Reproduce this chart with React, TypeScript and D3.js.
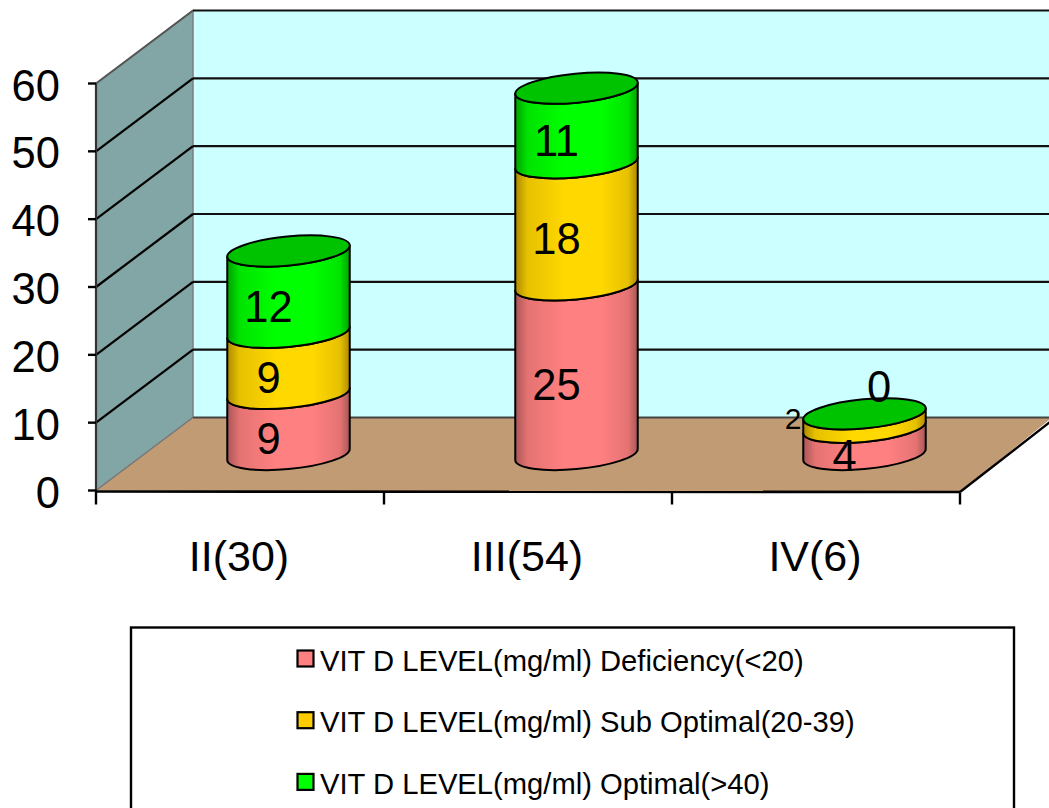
import React from "react";
import * as d3 from "d3";

const categories = ["II(30)", "III(54)", "IV(6)"];
const seriesNames = [
  "VIT D LEVEL(mg/ml) Deficiency(<20)",
  "VIT D LEVEL(mg/ml) Sub Optimal(20-39)",
  "VIT D LEVEL(mg/ml) Optimal(>40)",
];
const deficiency = [9, 25, 4];
const subOptimal = [9, 18, 2];
const optimal = [12, 11, 0];
const yTicks = [0, 10, 20, 30, 40, 50, 60];
const legendColors = ["#ff8080", "#ffcc00", "#00ff00"];
const gradEdge = ["#a85656", "#ad8a00", "#00a000"];
const gradMid = ["#ff8080", "#ffd800", "#00ff00"];
const capColor = "#00c300";

const FONT = "'Liberation Sans', Arial, sans-serif";
const W = 1049, H = 808;
const DX = 97, DY = -73;
const y = d3.scaleLinear().domain([0, 60]).range([490.5, 83.5]);
const x = d3.scaleBand<number>().domain([0, 1, 2]).range([96, 960]).paddingInner(0).paddingOuter(0);

const RX = 61.5, RY = 14.5, ROT = -5.5;
const th = (ROT * Math.PI) / 180;
const tExt = Math.atan2(-RY * Math.sin(th), RX * Math.cos(th));
const ex = RX * Math.cos(tExt) * Math.cos(th) - RY * Math.sin(tExt) * Math.sin(th);
const ey = RX * Math.cos(tExt) * Math.sin(th) + RY * Math.sin(tExt) * Math.cos(th);
// (ex,ey) is the right-hand extreme point relative to the ellipse centre
const arc = (sweep: number, px: number, py: number) => `A${RX},${RY} ${ROT} 0 ${sweep} ${px},${py}`;

function band(cx: number, y0: number, y1: number) {
  const l = cx - ex, r = cx + ex;
  return `M${l},${y0 - ey}${arc(0, r, y0 + ey)}L${r},${y1 + ey}${arc(1, l, y1 - ey)}Z`;
}

const stacks = categories.map((_, i) => {
  const vals = [deficiency[i], subOptimal[i], optimal[i]];
  let acc = 0;
  return vals.map((v, s) => {
    const start = acc;
    acc += v;
    return { s, v, start, end: acc };
  });
});

const centerX = (i: number) => x(i)! + x.bandwidth() / 2 + DX / 2;
const baseOff = DY / 2 + 0.5;
const labelDx = -20;
const specialLabels: Record<string, { x: number; y: number; size: number }> = {
  "2-1": { x: 793, y: 429, size: 30 },
  "2-2": { x: 879, y: 402, size: 43.5 },
};

export default function App() {
  const yTop = y(60), y0 = y(0);
  return (
    <svg width={W} height={H} viewBox={`0 0 ${W} ${H}`} style={{ position: "absolute", left: 0, top: 0, background: "#fff" }} fontFamily={FONT}>
      <defs>
        {gradMid.map((c, i) => (
          <linearGradient key={i} id={`g${i}`} x1="0" x2="1" y1="0" y2="0">
            <stop offset="0" stopColor={gradEdge[i]} />
            <stop offset="0.1" stopColor={d3.interpolateRgb(gradEdge[i], c)(0.7)} />
            <stop offset="0.4" stopColor={c} />
            <stop offset="0.7" stopColor={c} />
            <stop offset="0.92" stopColor={d3.interpolateRgb(gradEdge[i], c)(0.7)} />
            <stop offset="1" stopColor={gradEdge[i]} />
          </linearGradient>
        ))}
      </defs>

      {/* back wall */}
      <rect x={96 + DX} y={yTop + DY} width={W - 96 - DX} height={y0 - yTop} fill="#ccffff" />
      {/* side wall */}
      <polygon points={`96,${yTop} ${96 + DX},${yTop + DY} ${96 + DX},${y0 + DY} 96,${y0}`} fill="#82a5a5" stroke="#7f7f7f" strokeWidth={1.5} />
      {/* floor */}
      <polygon points={`96,${y0} ${96 + DX},${y0 + DY} ${W + 3},${y0 + DY} 960,${y0 + 2}`} fill="#c19b73" />
      <line x1={96 + DX} x2={W} y1={y0 + DY} y2={y0 + DY} stroke="#444" strokeWidth={2} />

      {/* gridlines */}
      {yTicks.map((t) => (
        <g key={t}>
          {t > 0 && t < 60 && <line x1={96} y1={y(t)} x2={96 + DX} y2={y(t) + DY} stroke="#000" strokeWidth={2.2} />}
          {t > 0 && <line x1={96 + DX} y1={y(t) + DY} x2={W} y2={y(t) + DY} stroke="#111" strokeWidth={2.2} />}
        </g>
      ))}
      <line x1={96} y1={yTop} x2={96 + DX} y2={yTop + DY} stroke="#555" strokeWidth={2} />
      <line x1={96} y1={y0} x2={96 + DX} y2={y0 + DY} stroke="#777" strokeWidth={1.2} />

      {/* axes */}
      <line x1={96} x2={96} y1={yTop} y2={y0 + 1} stroke="#333" strokeWidth={2.2} />
      <line x1={96} x2={960} y1={y0 + 1} y2={y0 + 1.5} stroke="#000" strokeWidth={2.6} />
      <line x1={960} y1={y0 + 1.5} x2={W + 3} y2={y0 + DY + 3} stroke="#000" strokeWidth={2.4} />
      {yTicks.map((t) => (
        <g key={t}>
          <line x1={88} x2={96} y1={y(t)} y2={y(t)} stroke="#000" strokeWidth={2.4} />
          <text x={60} y={y(t) + 17} textAnchor="end" fontSize={43.5} fill="#000">{t}</text>
        </g>
      ))}
      {[0, 1, 2].map((i) => (
        <line key={i} x1={x(i)!} x2={x(i)!} y1={y0 + 1} y2={y0 + 14} stroke="#000" strokeWidth={2.4} />
      ))}
      <line x1={960} x2={960} y1={y0 + 2} y2={y0 + 14} stroke="#000" strokeWidth={2.4} />
      {categories.map((c, i) => (
        <text key={c} x={x(i)! + x.bandwidth() / 2 - 1} y={571} textAnchor="middle" fontSize={43} fill="#000">{c}</text>
      ))}

      {/* cylinders */}
      {stacks.map((stack, i) => {
        const cx = centerX(i);
        const top = stack[stack.length - 1];
        return (
          <g key={i}>
            {stack.filter((d) => d.v > 0).map((d) => (
              <path key={d.s} d={band(cx, y(d.start) + baseOff, y(d.end) + baseOff)} fill={`url(#g${d.s})`} stroke="#000" strokeWidth={2} strokeLinejoin="round" />
            ))}
            <ellipse cx={cx} cy={y(top.end) + baseOff} rx={RX} ry={RY} transform={`rotate(${ROT} ${cx} ${y(top.end) + baseOff})`} fill={capColor} stroke="#000" strokeWidth={2} />
          </g>
        );
      })}

      {/* data labels */}
      {stacks.map((stack, i) => stack.map((d) => {
        const sp = specialLabels[`${i}-${d.s}`];
        const lx = sp ? sp.x : centerX(i) + labelDx;
        const ly = sp ? sp.y : y((d.start + d.end) / 2) + baseOff + 30.5;
        return <text key={`${i}-${d.s}`} x={lx} y={ly} textAnchor="middle" fontSize={sp ? sp.size : 43.5} fill="#000">{d.v}</text>;
      }))}

      {/* legend */}
      <rect x={131} y={627.5} width={883} height={200} fill="#fff" stroke="#000" strokeWidth={2.4} />
      {seriesNames.map((n, i) => {
        const ly = 658.5 + i * 61.7;
        return (
          <g key={n}>
            <rect x={297.5} y={ly - 8} width={16} height={16} fill={legendColors[i]} stroke="#000" strokeWidth={2.2} />
            <text x={320} y={ly + 12} fontSize={29.2} fill="#000">{n}</text>
          </g>
        );
      })}
    </svg>
  );
}
